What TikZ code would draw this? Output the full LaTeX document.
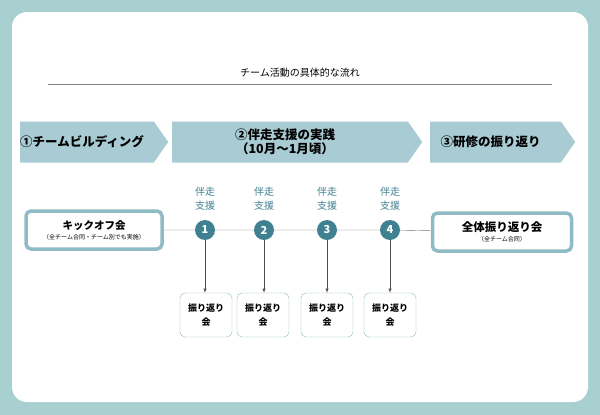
\documentclass[tikz,border=0pt]{standalone}
\usepackage{fontspec}
\setmainfont{Noto Sans CJK JP}
\usetikzlibrary{shapes.symbols,positioning}
\definecolor{teal1}{HTML}{3F8190}
\definecolor{teal2}{HTML}{8FBCC4}
\definecolor{band}{HTML}{A9CBD3}
\definecolor{bg}{HTML}{A8D0D0}
\tikzset{
  banner/.style={signal, signal to=east, signal pointer angle=110, fill=band, minimum height=41pt, font=\bfseries\fontsize{12.5}{14}\selectfont, align=center, inner sep=0pt},
  bigbox/.style={draw=teal2, line width=3.5pt, rounded corners=5pt, fill=white, align=center, minimum height=38pt},
  stepdot/.style={circle, fill=teal1, text=white, font=\bfseries\fontsize{11}{11}\selectfont, minimum size=20pt, inner sep=0pt},
  support/.style={text=teal1, font=\fontsize{10}{14}\selectfont, align=center},
  small/.style={draw=teal2, rounded corners=5pt, font=\bfseries\fontsize{9}{14}\selectfont, align=center, minimum width=52pt, minimum height=44pt},
}
\begin{document}
\begin{tikzpicture}[x=1pt,y=-1pt]
  \useasboundingbox (0,0) rectangle (600,415);
  \fill[bg] (0,0) rectangle (600,415);
  \fill[white, rounded corners=15pt] (12,12) rectangle (588,402);

  \node[font=\fontsize{10}{12}\selectfont] (title) at (300,73) {チーム活動の具体的な流れ};
  \draw[gray] (48,84) -- (552,84);

  \node[banner, minimum width=148pt, anchor=west] (b1) at (20,142) {\hspace{-10pt}①チームビルディング};
  \node[banner, minimum width=250pt, anchor=west] (b2) at (172,142) {\hspace{-10pt}②伴走支援の実践\\\hspace{-10pt}（10月～1月頃）};
  \node[banner, minimum width=145pt, anchor=west] (b3) at (430,142) {\hspace{-10pt}③研修の振り返り};

  \node[bigbox, minimum width=136pt] (kick) at (94,230) {{\bfseries\fontsize{10.5}{12}\selectfont キックオフ会}\\[-2pt]{\fontsize{6}{7}\selectfont （全チーム合同・チーム別でも実施）}};
  \node[bigbox, minimum width=139pt] (all) at (502,232) {{\bfseries\fontsize{11.5}{13}\selectfont 全体振り返り会}\\[-2pt]{\fontsize{6}{7}\selectfont （全チーム合同）}};

  \foreach \i/\x/\bx in {1/205/206, 2/264/263, 3/327/327, 4/390/390} {
    \node[stepdot] (s\i) at (\x,230) {\i};
    \node[support] (sup\i) at (\x,199) {伴走\\支援};
    \node[small] (r\i) at (\bx,315) {振り返り\\会};
    \draw[-latex, black!70, line width=0.5pt] (s\i) -- (r\i.north -| s\i);
  }
  \draw[black!55] (kick) -- (s1) -- (s2) -- (s3) -- (s4) -- (all);
\end{tikzpicture}
\end{document}
